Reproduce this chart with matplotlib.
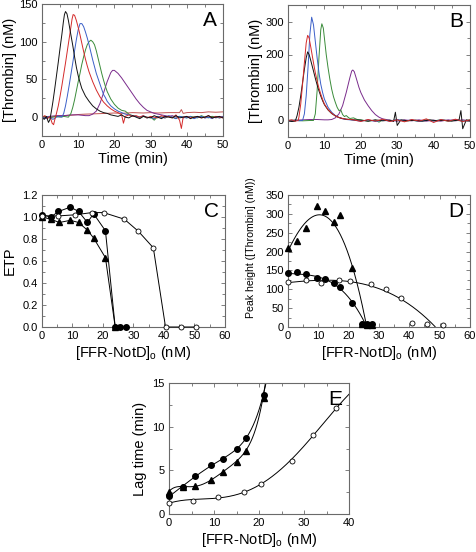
import numpy as np
import matplotlib
matplotlib.use("Agg")
import matplotlib.pyplot as plt
from matplotlib.ticker import MultipleLocator

plt.rcParams['font.family'] = ['Liberation Sans', 'DejaVu Sans']
plt.rcParams['mathtext.fontset'] = 'custom'
plt.rcParams['mathtext.rm'] = 'Liberation Sans'

# ---------------- Panel A: thrombin generation curves ----------------
A_black_t = [0,0.6,1.2,1.8,2.2,2.6,3,3.5,4,4.5,5,5.5,5.9,6.2,6.5,6.9,7.3,7.8,8.5,9,9.5,10,10.5,11,12,13,14,15,16,17,18,19,20,21,22,23,24,25,26,27,28,29,30,31,32,33,34,35,36,37,38,39,40,41,42,43,44,45,46,47,48,49,50]
A_black_v = [0,-3,1,-7,-3,8,20,37,55,73,92,110,126,136,140,137,128,114,95,80,66,55,46,38,28,21,15,11,8,6,5,3,2,1,3,0,-1,2,0,-2,1,0,-1,2,0,-2,1,0,-1,2,-1,0,1,-2,0,1,-1,0,2,-1,0,1,-1]
A_red_t = [0,0.8,1.5,2.2,2.8,3.2,3.6,4,4.5,5,5.5,6,6.5,7,7.5,8,8.3,8.6,9,9.5,10,10.5,11,11.5,12,12.5,13,14,15,16,17,18,19,20,21,22,22.5,23,24,25,26,27,28,29,30,31,32,33,34,35,36,37,38,38.5,39,40,41,42,43,44,45,46,47,48,49,50]
A_red_v = [0,2,-2,1,-8,-10,-2,5,15,28,42,57,72,88,104,120,130,136,135,128,119,109,98,87,77,68,60,47,36,27,20,15,11,8,6,3,-8,1,3,1,2,0,2,-1,1,0,-1,2,0,1,-1,3,-4,-15,0,1,-1,0,1,-1,0,2,-1,1,0,-1]
A_blue_t = [0,1,2,3,4,5,5.5,6,6.5,7,7.5,8,8.5,9,9.5,10,10.5,11,11.5,12,12.5,13,13.5,14,14.5,15,16,17,17.5,18,19,20,21,22,23,24,25,26,27,28,29,30,31,32,33,34,35,36,37,38,39,40,41,42,43,44,45,46,47,48,49,50]
A_blue_v = [0,-2,1,-3,0,1,0,5,15,28,42,57,72,88,103,116,124,124,120,113,105,96,86,76,67,58,44,30,26,21,15,11,8,6,4,3,2,1,0,2,-1,0,-2,1,0,-1,2,0,-2,1,0,-1,1,-2,0,1,-1,0,-2,1,-1,0]
A_green_t = [0,1,2,3,4,5,6,7.3,8,8.5,9,9.5,10,10.5,11,11.5,12,12.5,13,13.5,14,14.5,15,15.5,16,16.5,17,17.5,18,19,20,21,22,23,24,25,26,27,28,29,30,31,32,33,34,35,36,37,38,39,40,41,42,43,44,45,46,47,48,49,50]
A_green_v = [0,1,-1,0,1,0,1,0,5,13,23,35,47,58,70,80,89,96,100,102,100,96,88,78,68,58,49,41,34,24,17,12,9,8,4,2,1,0,1,-1,0,-4,1,0,-1,1,0,-2,1,0,-1,1,0,-1,2,0,-1,1,0,-1,0]
A_purple_t = [0,2,4,6,8,10,12,13,14,15,16,17,18,19,19.5,20,21,22,23,24,25,26,27,28,29,30,31,32,33,34,35,36,37,38,39,40,41,42,43,44,45,46,47,48,49,50]
A_purple_v = [0,1,2,2,3,3,2,2,4,8,18,32,47,59,62,62,58,52,45,38,31,24,18,13,9,7,5,4,3,2,1,2,0,1,-1,0,1,-1,0,1,-1,0,1,-1,0,1]
A_base_t = [0,2,4,6,8,10,12,15,18,20,22,25,28,30,32,35,38,38.5,39,40,42,44,46,48,50]
A_base_v = [0,0,1,2,2.5,3.5,4,4.5,5,5.5,5,6,5.5,6,5.5,6,6,10,5,6,6.5,6,7,6.5,7]

# ---------------- Panel B ----------------
B_black_t = [0,1,2,2.5,3,3.5,4,4.5,5,5.4,5.8,6.3,7,7.5,8,8.5,9,9.5,10,11,12,13,14,15,16,18,20,22,24,26,28,29,29.5,30,31,33,35,37,39,41,43,45,47,47.5,48,49,50]
B_black_v = [0,-3,-2,15,40,75,115,155,190,208,200,180,150,128,108,90,74,60,48,32,21,14,9,6,4,2,1,-2,2,-1,1,-3,25,-15,2,-1,1,-2,2,-1,1,-2,2,30,-25,2,-1]
B_red_t = [0,1,2,2.8,3,3.5,4,4.5,5,5.4,5.8,6.3,7,7.5,8,8.5,9,9.5,10,11,12,13,14,15,16,18,20,22,24,26,28,30,32,34,36,38,40,42,44,46,48,50]
B_red_v = [0,2,-2,0,10,50,110,175,235,258,250,220,175,145,120,98,80,64,50,33,22,14,9,6,4,2,-3,3,-2,4,-3,2,-4,3,-2,5,-6,3,-2,4,-3,2]
B_blue_t = [0,1,2,3,4,4.5,5,5.5,6,6.5,7,7.5,8,8.5,9,9.5,10,11,12,13,14,15,16,18,20,22,24,26,28,30,32,34,36,38,40,42,44,46,48,50]
B_blue_v = [0,-2,1,-1,0,20,75,160,260,313,290,240,190,145,110,85,65,40,25,15,9,5,3,1,-2,2,-3,1,-2,3,-1,2,-3,1,-2,2,-1,3,-2,1]
B_green_t = [0,2,4,6,7,7.5,8,8.5,9,9.3,9.7,10,10.5,11,11.5,12,12.5,13,13.5,14,14.5,15,15.5,16,16.5,17,18,19,20,22,24,25,26,28,30,32,34,36,38,40,42,44,46,48,50]
B_green_v = [0,1,-1,0,0,20,90,190,275,293,280,250,200,160,125,95,72,55,40,30,32,18,12,15,10,6,8,3,2,-2,1,-5,2,-1,2,-2,1,-3,2,-1,2,-2,1,-2,2]
B_purple_t = [0,2,4,6,8,10,11,12,13,14,15,16,17,17.5,17.8,18.2,18.7,19.5,20,21,22,23,24,25,26,27,28,30,32,34,36,38,40,42,44,46,48,50]
B_purple_v = [0,1,2,3,3,2,2,3,8,20,45,85,130,150,153,148,130,100,85,62,45,30,18,10,5,3,1,-2,2,-1,2,-2,1,-2,2,-1,2,-1]

# ---------------- Panel C: ETP ----------------
C_fill_x = [0, 2.9, 5.4, 9.3, 12, 14.9, 16.9, 20.8, 24, 25.6, 27.6]
C_fill_y = [1.02, 1.0, 1.05, 1.09, 1.05, 0.95, 1.03, 0.875, 0, 0, 0]
C_tri_x = [0, 2.9, 5.7, 9.3, 12, 14.9, 16.9, 20.8, 24]
C_tri_y = [1.0, 0.98, 0.95, 0.97, 0.95, 0.88, 0.81, 0.63, 0]
C_open_x = [0, 5.4, 10.9, 16.3, 20.2, 27, 31.6, 36.5, 40.5, 45.5, 50.4]
C_open_y = [1.01, 1.01, 1.02, 1.04, 1.04, 0.98, 0.87, 0.72, 0, 0, 0]

# ---------------- Panel D: peak height ----------------
D_tri_x = [0, 3.1, 5.8, 9.5, 12.1, 15.2, 17, 21.2, 24.5, 25.9, 27.8]
D_tri_y = [210, 228, 263, 322, 308, 278, 296, 157, 7, 5, 5]
D_fill_x = [0, 3.1, 5.8, 9.5, 12.1, 15.2, 17, 21.2, 24.5, 25.9, 27.8]
D_fill_y = [142, 147, 140, 131, 127, 117, 105, 64, 7, 7, 7]
D_open_x = [0, 5.8, 10.8, 16.8, 20.4, 27.5, 32.2, 37.1, 41, 45.9, 51.1]
D_open_y = [120, 124, 117, 125, 122, 115, 102, 78, 11, 7, 6]
# fitted curves
D_tri_fit_x = [0, 3, 6, 10, 13, 16, 19, 22, 24.5, 26]
D_tri_fit_y = [205, 242, 275, 300, 295, 265, 212, 130, 60, 0]
D_fill_fit_x = [0, 5, 10, 15, 20, 23, 26]
D_fill_fit_y = [142, 140, 132, 115, 78, 45, 0]
D_open_fit_x = [0, 5, 10, 20, 30, 40, 48.5]
D_open_fit_y = [117, 122, 125, 120, 100, 62, 0]

# ---------------- Panel E: lag time ----------------
E_fill_x = [0, 3.0, 5.85, 9.4, 12.1, 15.0, 17.0, 21.0]
E_fill_y = [2.07, 3.14, 4.4, 5.59, 6.28, 7.42, 8.73, 13.6]
E_tri_x = [0, 3.0, 5.85, 9.4, 12.1, 15.0, 17.0, 21.0]
E_tri_y = [2.56, 3.14, 3.2, 3.9, 4.78, 6.0, 7.27, 13.3]
E_open_x = [0, 5.3, 10.9, 16.6, 20.4, 27.3, 32.0, 37.0]
E_open_y = [1.3, 1.49, 1.99, 2.49, 3.48, 6.08, 9.03, 12.17]
E_fill_fit_x = [0, 3, 6, 9.4, 12, 15, 17, 19, 21, 21.6]
E_fill_fit_y = [2.0, 3.15, 4.4, 5.55, 6.3, 7.4, 8.7, 10.5, 13.6, 15.2]
E_tri_fit_x = [0, 3, 6, 9.4, 12, 15, 17, 19, 21, 21.4]
E_tri_fit_y = [2.6, 3.1, 3.25, 3.9, 4.8, 6.0, 7.3, 9.4, 13.3, 15.2]
E_open_fit_x = [0, 5, 11, 16.6, 20.4, 27.3, 32, 37, 40]
E_open_fit_y = [1.3, 1.45, 2.0, 2.5, 3.45, 6.1, 9.0, 12.2, 13.6]

COL = {'black': '#111111', 'red': '#d42a2a', 'blue': '#3a5fc8',
       'green': '#3a8c3a', 'purple': '#7a2c8c', 'base': '#c05050'}
FRAME = '#6a6a6a'
TICKFS = 8
LABFS = 10.5
MS_F = 4.0     # filled circles
MS_T = 4.2     # triangles
MS_O = 3.6     # open circles

W, H = 477, 552
fig = plt.figure(figsize=(W / 100, H / 100), dpi=100)

def rect(l, t, r, b):
    return [l / W, 1 - b / H, (r - l) / W, (b - t) / H]

def style(ax, xmaj, xmin, ymaj, ymin):
    for s in ax.spines.values():
        s.set_color(FRAME)
        s.set_linewidth(0.8)
    ax.xaxis.set_major_locator(MultipleLocator(xmaj))
    ax.xaxis.set_minor_locator(MultipleLocator(xmin))
    ax.yaxis.set_major_locator(MultipleLocator(ymaj))
    ax.yaxis.set_minor_locator(MultipleLocator(ymin))
    ax.tick_params(which='both', direction='in', top=True, right=True,
                   color=FRAME, width=0.6, labelsize=TICKFS, pad=3)
    ax.tick_params(which='major', length=3)
    ax.tick_params(which='minor', length=2)

def letter(ax, s):
    ax.text(0.965, 0.95, s, transform=ax.transAxes, ha='right', va='top',
            fontsize=15)

xlab = r'[FFR-NotD]$_\mathregular{o}$ (nM)'

# Panel A
axA = fig.add_axes(rect(42, 4, 223, 136))
for key, t, v in [('base', A_base_t, A_base_v), ('purple', A_purple_t, A_purple_v),
                  ('green', A_green_t, A_green_v), ('blue', A_blue_t, A_blue_v),
                  ('red', A_red_t, A_red_v), ('black', A_black_t, A_black_v)]:
    axA.plot(t, v, color=COL[key], lw=0.7)
axA.set_xlim(0, 50)
axA.set_ylim(-25, 150)
style(axA, 10, 5, 50, 25)
axA.set_xlabel('Time (min)', fontsize=LABFS, labelpad=1)
axA.set_ylabel('[Thrombin] (nM)', fontsize=LABFS, labelpad=2)
letter(axA, 'A')

# Panel B
axB = fig.add_axes(rect(288, 5, 470, 137))
for key, t, v in [('purple', B_purple_t, B_purple_v), ('green', B_green_t, B_green_v),
                  ('blue', B_blue_t, B_blue_v), ('black', B_black_t, B_black_v),
                  ('red', B_red_t, B_red_v)]:
    axB.plot(t, v, color=COL[key], lw=0.7)
axB.set_xlim(0, 50)
axB.set_ylim(-50, 350)
style(axB, 10, 5, 100, 50)
axB.set_xlabel('Time (min)', fontsize=LABFS, labelpad=1)
axB.set_ylabel('[Thrombin] (nM)', fontsize=LABFS, labelpad=2)
letter(axB, 'B')

# Panel C
axC = fig.add_axes(rect(42, 195, 225, 327))
axC.plot(C_fill_x, C_fill_y, '-o', color='k', lw=0.7, ms=MS_F, clip_on=False, zorder=3)
axC.plot(C_tri_x, C_tri_y, '-^', color='k', lw=0.7, ms=MS_T, clip_on=False, zorder=3)
axC.plot(C_open_x, C_open_y, '-o', color='k', mfc='white', mew=0.6, lw=0.7, ms=MS_O,
         clip_on=False, zorder=3)
axC.set_xlim(0, 60)
axC.set_ylim(0, 1.2)
style(axC, 10, 5, 0.2, 0.1)
axC.set_xlabel(xlab, fontsize=LABFS, labelpad=2)
axC.set_ylabel('ETP', fontsize=LABFS, labelpad=4)
letter(axC, 'C')

# Panel D
axD = fig.add_axes(rect(288, 195, 470, 327))
for fx, fy in [(D_tri_fit_x, D_tri_fit_y), (D_fill_fit_x, D_fill_fit_y),
               (D_open_fit_x, D_open_fit_y)]:
    c = np.polyfit(fx, fy, 3)
    xs = np.linspace(0, fx[-1], 300)
    axD.plot(xs, np.polyval(c, xs), color='k', lw=0.7)
axD.plot(D_tri_x, D_tri_y, '^', color='k', ms=MS_T, clip_on=False, zorder=3)
axD.plot(D_fill_x, D_fill_y, 'o', color='k', ms=MS_F, clip_on=False, zorder=3)
axD.plot(D_open_x, D_open_y, 'o', color='k', mfc='white', mew=0.6, ms=MS_O,
         clip_on=False, zorder=3)
axD.set_xlim(0, 60)
axD.set_ylim(0, 350)
style(axD, 10, 5, 50, 25)
axD.set_xlabel(xlab, fontsize=LABFS, labelpad=2)
axD.set_ylabel('Peak height ([Thrombin] (nM))', fontsize=7.6)
axD.yaxis.set_label_coords(-0.175, 0.6)
letter(axD, 'D')

# Panel E
axE = fig.add_axes(rect(169, 383, 349, 514))
for fx, fy, deg in [(E_fill_fit_x, E_fill_fit_y, 5), (E_tri_fit_x, E_tri_fit_y, 5),
                    (E_open_fit_x, E_open_fit_y, 4)]:
    c = np.polyfit(fx, fy, deg)
    xs = np.linspace(0, fx[-1], 300)
    axE.plot(xs, np.polyval(c, xs), color='k', lw=0.7)
axE.plot(E_fill_x, E_fill_y, 'o', color='k', ms=MS_F, clip_on=False, zorder=3)
axE.plot(E_tri_x, E_tri_y, '^', color='k', ms=MS_T, clip_on=False, zorder=3)
axE.plot(E_open_x, E_open_y, 'o', color='k', mfc='white', mew=0.6, ms=MS_O,
         clip_on=False, zorder=3)
axE.set_xlim(0, 40)
axE.set_ylim(0, 15)
style(axE, 10, 5, 5, 2.5)
axE.set_xlabel(xlab, fontsize=LABFS, labelpad=2)
axE.set_ylabel('Lag time (min)', fontsize=LABFS, labelpad=4)
letter(axE, 'E')

fig.savefig('out.png', dpi=100)
